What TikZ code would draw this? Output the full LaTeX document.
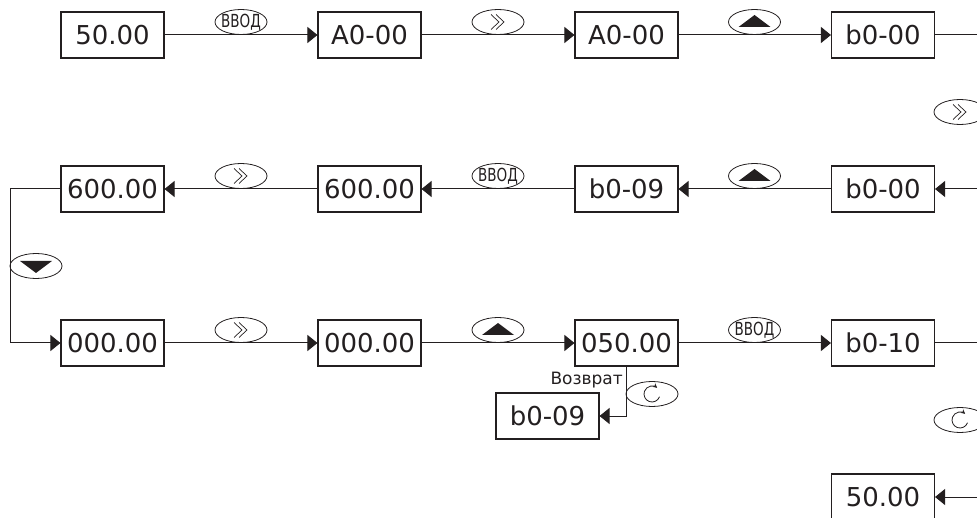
\documentclass[tikz,border=0pt]{standalone}
\usepackage{fontspec}
\setmainfont{DejaVu Sans}
\usetikzlibrary{arrows.meta,shapes.geometric}
\definecolor{ink}{HTML}{231F20}
\newcommand{\vvodtxt}{\scalebox{0.75}[1]{\fontsize{18}{20}\selectfont ВВОД}}
\tikzset{
  box/.style={draw=ink,line width=1.1pt,minimum width=103pt,minimum height=46pt,inner sep=0pt,text=ink,font=\fontsize{26}{30}\selectfont},
  ell/.style={draw=ink,ellipse,line width=0.8pt,minimum width=52pt,minimum height=25pt,inner sep=0pt,text=ink},
  con/.style={draw=ink,line width=1pt},
  arr/.style={con,-{Triangle[length=10pt,width=16pt]}},
  chev/.pic={\draw[ink,line width=0.7pt,yscale=-1] (-7,7.5)--(1,0)--(-7,-7.5) (-2,7.5)--(6,0)--(-2,-7.5);},
  triup/.pic={\fill[ink,yscale=-1] (-16,-5)--(16,-5)--(0,7)--cycle;},
  tridown/.pic={\fill[ink,yscale=-1] (-16,5)--(16,5)--(0,-7)--cycle;},
  rot/.pic={\draw[ink,line width=0.8pt,yscale=-1,-{Stealth[length=4.5pt,width=4.5pt]}] (-20:8) arc (-20:-310:8);},
}
\begin{document}
\begin{tikzpicture}[x=1pt,y=-1pt]
\useasboundingbox (0,0) rectangle (977,518);
\clip (0,0) rectangle (977,518);
% row 1
\node[box] (a1) at (112.5,35) {50.00};
\node[box] (a2) at (369.5,35) {A0-00};
\node[box] (a3) at (626.5,35) {A0-00};
\node[box] (a4) at (883,35) {b0-00};
% row 2
\node[box] (b1) at (112.5,189) {600.00};
\node[box] (b2) at (369.5,189) {600.00};
\node[box] (b3) at (626.5,189) {b0-09};
\node[box] (b4) at (883,189) {b0-00};
% row 3
\node[box] (c1) at (112.5,343) {000.00};
\node[box] (c2) at (369.5,343) {000.00};
\node[box] (c3) at (626.5,343) {050.00};
\node[box] (c4) at (883,343) {b0-10};
% extra
\node[box] (d1) at (547.5,416) {b0-09};
\node[box] (d2) at (883,497) {50.00};
% coordinates
\coordinate (rx) at (986,0);
\coordinate (lx) at (10,0);
\coordinate (ret) at (626,0);
% connectors
\draw[arr] (a1) -- (a2);
\draw[arr] (a2) -- (a3);
\draw[arr] (a3) -- (a4);
\draw[arr] (a4.east) -- (a4.east -| rx) -- (b4.east -| rx) -- (b4.east);
\draw[arr] (b4) -- (b3);
\draw[arr] (b3) -- (b2);
\draw[arr] (b2) -- (b1);
\draw[arr] (b1.west) -- (b1.west -| lx) -- (c1.west -| lx) -- (c1.west);
\draw[arr] (c1) -- (c2);
\draw[arr] (c2) -- (c3);
\draw[arr] (c3) -- (c4);
\draw[arr] (c4.east) -- (c4.east -| rx) -- (d2.east -| rx) -- (d2.east);
\draw[arr] (c3.south -| ret) |- (d1.east);
% labels
\node[ell] (l1) at (241,22) {};
\node[ell] (l2) at (498,22) {};
\node[ell] (l3) at (754.5,22) {};
\node[ell] (l4) at (960,112) {};
\node[ell] (l5) at (754.5,176) {};
\node[ell] (l6) at (498,176) {};
\node[ell] (l7) at (241,176) {};
\node[ell] (l8) at (36,266) {};
\node[ell] (l9) at (241,330) {};
\node[ell] (l10) at (498,330) {};
\node[ell] (l11) at (754.5,330) {};
\node[ell] (l12) at (652,394) {};
\node[ell] (l13) at (960,420) {};
\node[text=ink,inner sep=0pt] (t1) at (l1) {\vvodtxt};
\node[text=ink,inner sep=0pt] (t6) at (l6) {\vvodtxt};
\node[text=ink,inner sep=0pt] (t11) at (l11) {\vvodtxt};
\pic at (l2) {chev};
\pic at (l3) {triup};
\pic at (l4) {chev};
\pic at (l5) {triup};
\pic at (l7) {chev};
\pic at (l8) {tridown};
\pic at (l9) {chev};
\pic at (l10) {triup};
\pic at (l12) {rot};
\pic at (l13) {rot};
\node[anchor=east,text=ink,font=\fontsize{17}{20}\selectfont,inner sep=0pt] (vz) at (623,380) {Возврат};
\end{tikzpicture}
\end{document}
